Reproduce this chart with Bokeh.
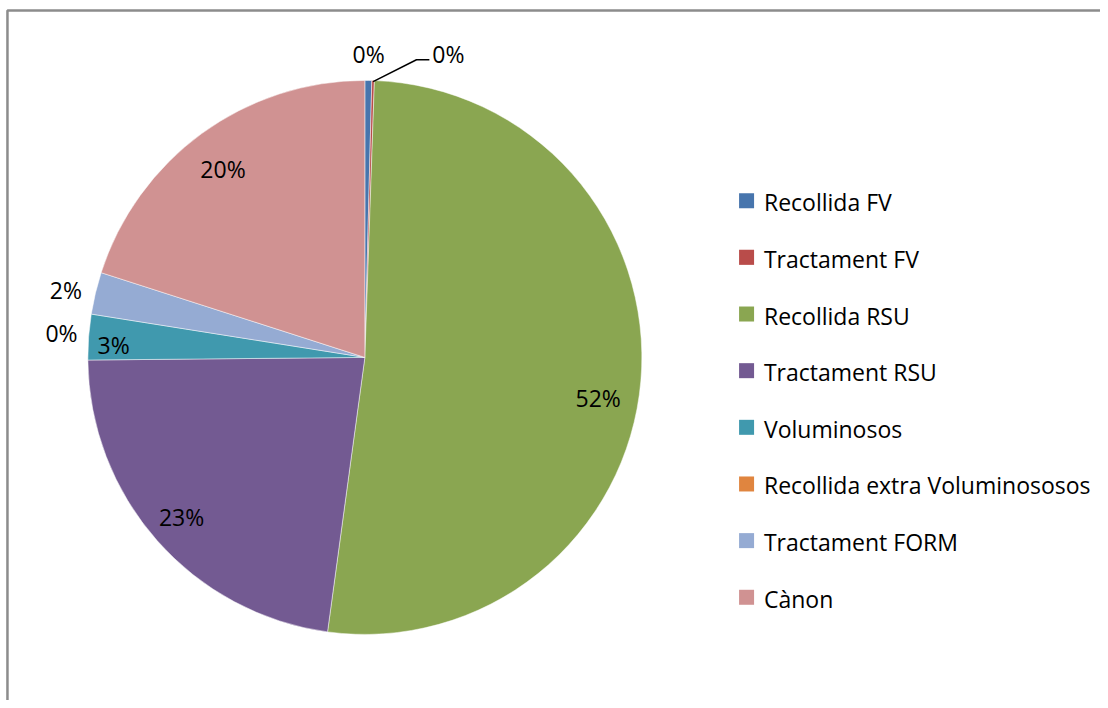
import math
from bokeh.plotting import figure
from bokeh.models import Range1d, ColumnDataSource
from bokeh.core.properties import value
from bokeh.embed import file_html
from bokeh.resources import INLINE

# ---- data ----
categories = ["Recollida FV", "Tractament FV", "Recollida RSU", "Tractament RSU",
              "Voluminosos", "Recollida extra Voluminososos", "Tractament FORM", "Cànon"]
shares = [0.40, 0.15, 51.60, 22.70, 2.65, 0.00, 2.45, 20.05]
colors = ["#4775ad", "#b94c4a", "#8aa651", "#735a92", "#4099ae", "#e0853f", "#95abd3", "#d09292"]

# ---- label placement (style) ----
lab_r = [1.10, 1.141, 0.855, 0.878, 0.908, 1.098, 1.106, 0.855]   # fraction of radius
lab_da = [0.0, 13.6, 5.0, 0.3, -1.3, -4.4, -0.7, -0.7]             # angle nudge, degrees
lab_align = ["center", "left", "center", "center", "center", "right", "right", "center"]

W, H = 1100, 700          # canvas size in pixels
VW, VH = 1108, 708        # reference picture coordinate space
FONT = "Open Sans"
FS = "23px"

p = figure(width=W, height=H, output_backend="svg", toolbar_location=None,
           x_range=Range1d(0, VW), y_range=Range1d(0, VH), min_border=0)
p.axis.visible = False
p.grid.visible = False
p.outline_line_color = None
p.background_fill_color = "white"
p.border_fill_color = "white"

def X(xi):  # picture x -> data x
    return xi

def Y(yi):  # picture y (down) -> data y (up)
    return VH - yi

cx, cy, R = X(367), Y(361), 279.0

total = sum(shares)
cum = [0.0]
for s in shares:
    cum.append(cum[-1] + s / total)

# wedges (clockwise from 12 o'clock)
src = dict(start=[], end=[], color=[])
for i, s in enumerate(shares):
    if s <= 0:
        continue
    t0, t1 = cum[i] * 2 * math.pi, cum[i + 1] * 2 * math.pi
    src["start"].append(math.pi / 2 - t1)
    src["end"].append(math.pi / 2 - t0)
    src["color"].append(colors[i])
p.wedge(x=cx, y=cy, radius=R, start_angle="start", end_angle="end", direction="anticlock",
        fill_color="color", line_color="white", line_width=0.8, line_alpha=0.6,
        source=ColumnDataSource(src))

# percentage labels
for i, s in enumerate(shares):
    mid = (cum[i] + cum[i + 1]) / 2 * 360 + lab_da[i]
    th = math.radians(mid)
    r = lab_r[i] * R
    lx, ly = cx + r * math.sin(th), cy + r * math.cos(th)
    txt = f"{round(s / total * 100):.0f}%"
    if lab_align[i] == "right":
        lx += 16
    if lab_align[i] == "left":
        # leader line from slice edge to an elbow, then short horizontal
        tm = math.radians((cum[i] + cum[i + 1]) / 2 * 360)
        sx, sy = cx + R * math.sin(tm), cy + R * math.cos(tm)
        te = math.radians(9.8)
        ex, ey = cx + 1.095 * R * math.sin(te), cy + 1.095 * R * math.cos(te)
        p.line([sx, ex, ex + 13], [sy, ey, ey], line_color="black", line_width=1.5)
        lx, ly = ex + 16, ey + 6
    p.text(x=[lx], y=[ly], text=[txt], text_font=value(FONT), text_font_size=FS,
           text_align=lab_align[i], text_baseline="middle", text_color="black")

# legend
leg_x = X(751.5)
leg_y0 = 202.5
leg_dy = 57.3
lx_list = [leg_x] * len(categories)
ly_list = [Y(leg_y0 + i * leg_dy) for i in range(len(categories))]
p.scatter(x=lx_list, y=ly_list, marker="square", size=15, fill_color=colors, line_color=None)
p.text(x=[X(769)] * len(categories), y=[y - 1.5 for y in ly_list], text=categories,
       text_font=value(FONT), text_font_size=FS, text_align="left", text_baseline="middle",
       text_color="black")

# chart border (top and left edges visible)
p.line([X(7), X(7), VW + 5], [-5, Y(10), Y(10)], line_color="#8c8c8c", line_width=2.5)

open("out.html", "w").write(file_html(p, INLINE))
